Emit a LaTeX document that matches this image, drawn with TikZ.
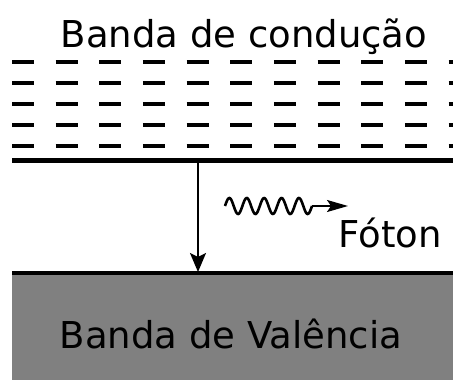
\documentclass[tikz,border=0pt]{standalone}
\usepackage{fontspec}
\setmainfont{DejaVu Sans}
\usetikzlibrary{arrows.meta}
\begin{document}
\begin{tikzpicture}[x=1pt,y=-1pt,
  lbl/.style={anchor=base,inner sep=0pt,font=\fontsize{37}{44}\selectfont},
  dashrow/.style={line width=4pt,dash pattern=on 22pt off 21.65pt},
  bandline/.style={line width=4.5pt},
  emit/.style={line width=2pt,-{Stealth[length=19pt,width=16pt,inset=4pt]}},
  photon/.style={line width=2.6pt}]
\useasboundingbox (0,0) rectangle (453,380);
% valence band
\fill[black!50] (12,273) rectangle (453,380);
\node[lbl] (top) at (244,47) {Banda de condução};
\node[lbl] (val) at (231,348) {Banda de Valência};
\node[lbl] (foton) at (390,247) {Fóton};
% conduction levels
\foreach \yy in {62,83,104,125,146}
  \draw[dashrow] (12,\yy) -- (453,\yy);
\coordinate (cl) at (12,160.5);
\coordinate (cr) at (453,160.5);
\coordinate (vl) at (12,273);
\coordinate (vr) at (453,273);
\draw[bandline] (cl) -- (cr);
\draw[bandline] (vl) -- (vr);
% transition
\coordinate (a1) at (198,160.5);
\coordinate (a2) at (198,272);
\draw[emit] (a1) -- (a2);
% photon
\coordinate (w1) at (225,206);
\coordinate (w2) at (312,206);
\coordinate (w3) at (348,206);
\draw[photon] plot[domain=225:312,samples=120,smooth] (\x,{206-8*sin(20.69*(\x-225))});
\draw[line width=1.8pt,-{Stealth[length=21pt,width=12pt,inset=4pt]}] (w2) -- (w3);
\end{tikzpicture}
\end{document}
